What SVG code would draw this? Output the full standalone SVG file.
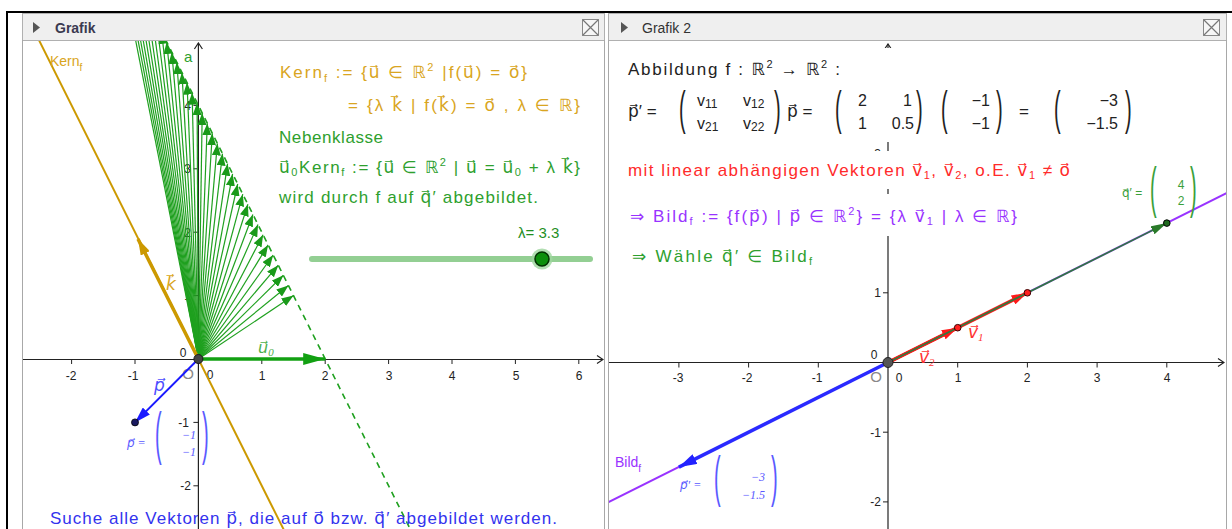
<svg xmlns="http://www.w3.org/2000/svg" width="1232" height="529" viewBox="0 0 1232 529">
<style>
text{font-family:"Liberation Sans","DejaVu Sans",sans-serif}
.ax{stroke:#222;stroke-width:1.2;fill:none}
.tk{stroke:#222;stroke-width:1}
.lbm{font-size:12px;fill:#222;text-anchor:middle}
.lbe{font-size:12px;fill:#222;text-anchor:end}
.sr{font-family:"Liberation Serif","DejaVu Sans",serif;font-style:italic}
.or{fill:#d9a521;font-size:17px}
.gr{fill:#2ea02e;font-size:17px}
.fan line{stroke:#1fa01f;stroke-width:1.2}
.par{font-size:20px}
</style>
<defs>
<marker id="mFan" markerUnits="userSpaceOnUse" markerWidth="12" markerHeight="9" refX="12" refY="4.5" orient="auto"><path d="M0,0L12,4.5L0,9z" fill="#1a9a1a"/></marker>
<marker id="mU0" markerUnits="userSpaceOnUse" markerWidth="22" markerHeight="12" refX="22" refY="6" orient="auto"><path d="M0,0L22,6L0,12z" fill="#12a012"/></marker>
<marker id="mK" markerUnits="userSpaceOnUse" markerWidth="16" markerHeight="10" refX="16" refY="5" orient="auto"><path d="M0,0L16,5L0,10z" fill="#cc9900"/></marker>
<marker id="mP" markerUnits="userSpaceOnUse" markerWidth="16" markerHeight="10" refX="16" refY="5" orient="auto"><path d="M0,0L16,5L0,10z" fill="#1a1aff"/></marker>
<marker id="mPP" markerUnits="userSpaceOnUse" markerWidth="18" markerHeight="11" refX="18" refY="5.5" orient="auto"><path d="M0,0L18,5.5L0,11z" fill="#2222ff"/></marker>
<marker id="mR" markerUnits="userSpaceOnUse" markerWidth="16" markerHeight="10" refX="16" refY="5" orient="auto"><path d="M0,0L16,5L0,10z" fill="#ff1a1a"/></marker>
<marker id="mQ" markerUnits="userSpaceOnUse" markerWidth="16" markerHeight="9" refX="16" refY="4.5" orient="auto"><path d="M0,0L16,4.5L0,9z" fill="#2a7a2a"/></marker>
<marker id="mAx" markerUnits="userSpaceOnUse" markerWidth="8" markerHeight="10" refX="7" refY="5" orient="auto"><path d="M1,1L7,5L1,9" fill="none" stroke="#222" stroke-width="1.2"/></marker>
<clipPath id="cL"><rect x="23" y="41" width="581" height="488"/></clipPath>
<clipPath id="cR"><rect x="609" y="41" width="617" height="488"/></clipPath>
</defs>
<rect width="1232" height="529" fill="#fff"/>

<!-- left panel plot -->
<g id="left-plot" clip-path="url(#cL)">
  <g id="left-axes">
    <line class="ax" x1="23" y1="359.5" x2="603" y2="359.5" marker-end="url(#mAx)"/>
    <line class="ax" x1="198.4" y1="529" x2="198.4" y2="43" marker-end="url(#mAx)"/>
    <path class="tk" d="M71.6,359v5M135,359v5M261.8,359v5M325.2,359v5M388.6,359v5M452,359v5M515.4,359v5M578.8,359v5M193.4,105.4h5M193.4,168.8h5M193.4,232.2h5M193.4,295.6h5M193.4,422.4h5M193.4,485.8h5"/>
    <text class="lbm" x="71" y="380">-2</text><text class="lbm" x="133" y="380">-1</text>
    <text class="lbm" x="262" y="380">1</text><text class="lbm" x="325" y="380">2</text>
    <text class="lbm" x="389" y="380">3</text><text class="lbm" x="452" y="380">4</text>
    <text class="lbm" x="516" y="380">5</text><text class="lbm" x="579" y="380">6</text>
    <text class="lbe" x="191" y="110">4</text><text class="lbe" x="191" y="173">3</text>
    <text class="lbe" x="191" y="237">2</text><text class="lbe" x="191" y="300">1</text>
    <text class="lbe" x="189" y="427">-1</text><text class="lbe" x="191" y="490">-2</text>
    <text class="lbm" x="183" y="357">0</text>
    <text class="lbm" x="210" y="379">0</text>
    <text x="188" y="379" font-size="15" fill="#888" text-anchor="middle">O</text>
    <text x="184" y="62" font-size="15" fill="#2ea02e">a</text>
  </g>
  <g id="kern-line">
    <line x1="18.9" y1="0" x2="288.9" y2="540" stroke="#cc9900" stroke-width="2"/>
    <text x="50" y="66" font-size="14" fill="#d9a521">Kern<tspan font-size="10" dy="5">f</tspan></text>
  </g>
  <line id="coset-line" x1="145.7" y1="0" x2="415.7" y2="540" stroke="#1fa01f" stroke-width="1.6" stroke-dasharray="6,5"/>
  <g id="fan" class="fan">
    <line x1="198.4" y1="359" x2="293.5" y2="295.6" marker-end="url(#mFan)"/>
    <line x1="198.4" y1="359" x2="288.4" y2="285.5" marker-end="url(#mFan)"/>
    <line x1="198.4" y1="359" x2="283.4" y2="275.3" marker-end="url(#mFan)"/>
    <line x1="198.4" y1="359" x2="278.3" y2="265.2" marker-end="url(#mFan)"/>
    <line x1="198.4" y1="359" x2="273.2" y2="255.0" marker-end="url(#mFan)"/>
    <line x1="198.4" y1="359" x2="268.1" y2="244.9" marker-end="url(#mFan)"/>
    <line x1="198.4" y1="359" x2="263.1" y2="234.7" marker-end="url(#mFan)"/>
    <line x1="198.4" y1="359" x2="258.0" y2="224.6" marker-end="url(#mFan)"/>
    <line x1="198.4" y1="359" x2="252.9" y2="214.5" marker-end="url(#mFan)"/>
    <line x1="198.4" y1="359" x2="247.9" y2="204.3" marker-end="url(#mFan)"/>
    <line x1="198.4" y1="359" x2="242.8" y2="194.2" marker-end="url(#mFan)"/>
    <line x1="198.4" y1="359" x2="237.7" y2="184.0" marker-end="url(#mFan)"/>
    <line x1="198.4" y1="359" x2="232.6" y2="173.9" marker-end="url(#mFan)"/>
    <line x1="198.4" y1="359" x2="227.6" y2="163.7" marker-end="url(#mFan)"/>
    <line x1="198.4" y1="359" x2="222.5" y2="153.6" marker-end="url(#mFan)"/>
    <line x1="198.4" y1="359" x2="217.4" y2="143.4" marker-end="url(#mFan)"/>
    <line x1="198.4" y1="359" x2="212.3" y2="133.3" marker-end="url(#mFan)"/>
    <line x1="198.4" y1="359" x2="207.3" y2="123.2" marker-end="url(#mFan)"/>
    <line x1="198.4" y1="359" x2="202.2" y2="113.0" marker-end="url(#mFan)"/>
    <line x1="198.4" y1="359" x2="197.1" y2="102.9" marker-end="url(#mFan)"/>
    <line x1="198.4" y1="359" x2="192.1" y2="92.7" marker-end="url(#mFan)"/>
    <line x1="198.4" y1="359" x2="187.0" y2="82.6" marker-end="url(#mFan)"/>
    <line x1="198.4" y1="359" x2="181.9" y2="72.4" marker-end="url(#mFan)"/>
    <line x1="198.4" y1="359" x2="176.8" y2="62.3" marker-end="url(#mFan)"/>
    <line x1="198.4" y1="359" x2="171.8" y2="52.1" marker-end="url(#mFan)"/>
    <line x1="198.4" y1="359" x2="166.7" y2="42.0" marker-end="url(#mFan)"/>
    <line x1="198.4" y1="359" x2="161.6" y2="31.9" marker-end="url(#mFan)"/>
    <line x1="198.4" y1="359" x2="156.6" y2="21.7" marker-end="url(#mFan)"/>
    <line x1="198.4" y1="359" x2="151.5" y2="11.6" marker-end="url(#mFan)"/>
    <line x1="198.4" y1="359" x2="146.4" y2="1.4" marker-end="url(#mFan)"/>
    <line x1="198.4" y1="359" x2="141.3" y2="-8.7" marker-end="url(#mFan)"/>
    <line x1="198.4" y1="359" x2="136.3" y2="-18.9" marker-end="url(#mFan)"/>
    <line x1="198.4" y1="359" x2="131.2" y2="-29.0" marker-end="url(#mFan)"/>
    <line x1="198.4" y1="359" x2="126.1" y2="-39.2" marker-end="url(#mFan)"/>
    <line x1="198.4" y1="359" x2="121.1" y2="-49.3" marker-end="url(#mFan)"/>
    <line x1="198.4" y1="359" x2="116.0" y2="-59.4" marker-end="url(#mFan)"/>
  </g>
  <g id="vec-k">
    <line x1="198.4" y1="359" x2="138" y2="239" stroke="#cc9900" stroke-width="3.5" marker-end="url(#mK)"/>
    <text class="sr" x="166" y="290" font-size="17" fill="#d9a521">k&#x20D7;</text>
  </g>
  <g id="vec-u0">
    <line x1="198.4" y1="359" x2="325.2" y2="359" stroke="#12a012" stroke-width="3.5" marker-end="url(#mU0)"/>
    <text class="sr" x="258" y="353" font-size="16" fill="#4db04d">u&#x20D7;<tspan font-size="11" dy="3">0</tspan></text>
  </g>
  <g id="vec-p">
    <line x1="198.4" y1="359" x2="135" y2="422.4" stroke="#1a1aff" stroke-width="2" marker-end="url(#mP)"/>
    <circle cx="135" cy="422.4" r="3.5" fill="#1a1a60" stroke="#000" stroke-width="0.8"/>
    <text class="sr" x="154" y="391" font-size="17" fill="#4d4dff">p&#x20D7;</text>
    <g id="p-label" fill="#5a5aff">
      <text class="sr" x="127" y="447" font-size="12">p&#x20D7; =</text>
      <text class="par" font-size="14" transform="translate(155,452.6) scale(1,2.9)">(</text>
      <text class="sr" x="196" y="439" font-size="12" text-anchor="end">−1</text>
      <text class="sr" x="196" y="456" font-size="12" text-anchor="end">−1</text>
      <text class="par" font-size="14" transform="translate(202,452.6) scale(1,2.9)">)</text>
    </g>
  </g>
  <circle id="origin-left" cx="198.4" cy="359" r="4.5" fill="#444" stroke="#1a1a1a" stroke-width="1"/>
</g>

<!-- left panel texts -->
<g id="kern-def">
  <text class="or" x="280" y="78" textLength="247">Kern<tspan font-size="11" dy="4">f</tspan><tspan dy="-4"> := {u&#x20D7; ∈ ℝ</tspan><tspan font-size="11" dy="-7">2</tspan><tspan dy="7"> |f(u&#x20D7;) = o&#x20D7;}</tspan></text>
  <text class="or" x="348" y="111" textLength="232">= {λ k&#x20D7; | f(k&#x20D7;) = o&#x20D7; ,  λ ∈ ℝ}</text>
</g>
<g id="coset-def">
  <text class="gr" x="279" y="143" textLength="104">Nebenklasse</text>
  <text class="gr" x="279" y="173" textLength="301">u&#x20D7;<tspan font-size="11" dy="3">0</tspan><tspan dy="-3">Kern</tspan><tspan font-size="11" dy="3">f</tspan><tspan dy="-3"> := {u&#x20D7; ∈ ℝ</tspan><tspan font-size="11" dy="-7">2</tspan><tspan dy="7"> | u&#x20D7; = u&#x20D7;</tspan><tspan font-size="11" dy="3">0</tspan><tspan dy="-3"> + λ k&#x20D7;}</tspan></text>
  <text class="gr" x="279" y="203" textLength="259">wird durch f auf q&#x20D7;′ abgebildet.</text>
</g>
<g id="slider">
  <text x="518" y="238" font-size="15" fill="#1f8f1f">λ= 3.3</text>
  <line x1="312" y1="259" x2="590" y2="259" stroke="#93cf93" stroke-width="6" stroke-linecap="round"/>
  <circle cx="542" cy="259" r="10.5" fill="#9fd69f" opacity="0.8"/>
  <circle cx="542" cy="259" r="7" fill="#0c8f0c" stroke="#003300" stroke-width="1.5"/>
</g>
<text id="search-text" x="50" y="524" font-size="17" fill="#3333ee" textLength="507">Suche alle Vektoren p&#x20D7;,  die auf o&#x20D7; bzw. q&#x20D7;′ abgebildet werden.</text>

<!-- right panel plot -->
<g id="right-plot" clip-path="url(#cR)">
  <g id="right-axes">
    <line class="ax" x1="609" y1="362.5" x2="1224" y2="362.5" marker-end="url(#mAx)"/>
    <line class="ax" x1="888" y1="529" x2="888" y2="44" marker-end="url(#mAx)"/>
    <path class="tk" d="M678.9,362.5v5M748.6,362.5v5M818.3,362.5v5M957.7,362.5v5M1027.4,362.5v5M1097.1,362.5v5M1166.8,362.5v5M883,153.4h5M883,223.1h5M883,292.8h5M883,432.2h5M883,501.9h5"/>
    <text class="lbm" x="678" y="382">-3</text><text class="lbm" x="747" y="382">-2</text>
    <text class="lbm" x="817" y="382">-1</text><text class="lbm" x="958" y="382">1</text>
    <text class="lbm" x="1027" y="382">2</text><text class="lbm" x="1097" y="382">3</text>
    <text class="lbm" x="1167" y="382">4</text>
    <text class="lbe" x="881" y="158">3</text>
    <text class="lbe" x="881" y="297">1</text>
    <text class="lbe" x="881" y="437">-1</text>
    <text class="lbe" x="881" y="506">-2</text>
    <text class="lbm" x="874" y="359">0</text>
    <text class="lbm" x="899" y="382">0</text>
    <text x="876" y="382" font-size="15" fill="#888" text-anchor="middle">O</text>
  </g>
  <g id="bild-line">
    <line x1="608.5" y1="502.2" x2="1226.5" y2="193.2" stroke="#9933ff" stroke-width="2"/>
    <text x="615" y="467" font-size="14" fill="#9933ff">Bild<tspan font-size="10" dy="5">f</tspan></text>
  </g>
  <g id="vec-pp">
    <line x1="888" y1="362.5" x2="678.9" y2="467.1" stroke="#2a2aff" stroke-width="3.5" marker-end="url(#mPP)"/>
    <g id="pp-label" fill="#5a5aff">
      <text class="sr" x="680" y="489" font-size="12">p&#x20D7;′ =</text>
      <text class="par" font-size="14" transform="translate(714,495) scale(1,2.75)">(</text>
      <text class="sr" x="765" y="481" font-size="12" text-anchor="end">−3</text>
      <text class="sr" x="765" y="499" font-size="12" text-anchor="end">−1.5</text>
      <text class="par" font-size="14" transform="translate(771,495) scale(1,2.75)">)</text>
    </g>
  </g>
  <g id="vec-v">
    <line x1="888" y1="362.5" x2="1027.4" y2="292.8" stroke="#ff1a1a" stroke-width="3.5" marker-end="url(#mR)"/>
    <line x1="888" y1="362.5" x2="957.7" y2="327.7" stroke="#ff1a1a" stroke-width="3.5" marker-end="url(#mR)"/>
    <text class="sr" x="968" y="338" font-size="17" fill="#ff3333">v&#x20D7;<tspan font-size="11" dy="3">1</tspan></text>
    <text class="sr" x="919" y="363" font-size="17" fill="#ff3333">v&#x20D7;<tspan font-size="11" dy="3">2</tspan></text>
  </g>
  <g id="vec-q">
    <line x1="888" y1="362.5" x2="1166.8" y2="223.1" stroke="#2f7a3f" stroke-width="1.6" marker-end="url(#mQ)"/>
    <circle cx="957.7" cy="327.7" r="3.3" fill="#ff2020" stroke="#3a0000" stroke-width="1"/>
    <circle cx="1027.4" cy="292.8" r="3.3" fill="#ff2020" stroke="#3a0000" stroke-width="1"/>
    <circle cx="1166.8" cy="223.1" r="3.3" fill="#1f6a1f" stroke="#000" stroke-width="1"/>
    <g id="q-label" fill="#3aa03a">
      <text x="1122" y="197" font-size="12">q&#x20D7;′ =</text>
      <text class="par" font-size="14" transform="translate(1150,206) scale(1,2.75)">(</text>
      <text x="1181" y="189" font-size="12" text-anchor="middle">4</text>
      <text x="1181" y="205" font-size="12" text-anchor="middle">2</text>
      <text class="par" font-size="14" transform="translate(1190,206) scale(1,2.75)">)</text>
    </g>
  </g>
  <circle id="origin-right" cx="888" cy="362.5" r="5" fill="#555" stroke="#222" stroke-width="1"/>
  <rect x="620" y="48" width="540" height="94" fill="#fff"/>
  <rect x="620" y="151" width="455" height="38" fill="#fff"/>
  <rect x="620" y="194" width="402" height="42" fill="#fff"/>
</g>

<!-- right panel texts -->
<g id="map-def" fill="#222">
  <text x="628" y="75" font-size="17" textLength="212">Abbildung f :  ℝ<tspan font-size="11" dy="-7">2</tspan><tspan dy="7"> → ℝ</tspan><tspan font-size="11" dy="-7">2</tspan><tspan dy="7"> :</tspan></text>
  <text x="628" y="117" font-size="17">p&#x20D7;′ =</text>
  <text class="par" transform="translate(679,124.1) scale(1,2.34)">(</text>
  <text x="697" y="106" font-size="16">v<tspan font-size="12" dy="2">11</tspan></text>
  <text x="743" y="106" font-size="16">v<tspan font-size="12" dy="2">12</tspan></text>
  <text x="697" y="129" font-size="16">v<tspan font-size="12" dy="2">21</tspan></text>
  <text x="743" y="129" font-size="16">v<tspan font-size="12" dy="2">22</tspan></text>
  <text class="par" transform="translate(774,124.1) scale(1,2.34)">)</text>
  <text x="787" y="117" font-size="17">p&#x20D7; =</text>
  <text class="par" transform="translate(835,124.1) scale(1,2.34)">(</text>
  <text x="858" y="106" font-size="16">2</text>
  <text x="912" y="106" font-size="16" text-anchor="end">1</text>
  <text x="858" y="129" font-size="16">1</text>
  <text x="914" y="129" font-size="16" text-anchor="end">0.5</text>
  <text class="par" transform="translate(916,124.1) scale(1,2.34)">)</text>
  <text class="par" transform="translate(941,124.1) scale(1,2.34)">(</text>
  <text x="990" y="106" font-size="16" text-anchor="end">−1</text>
  <text x="990" y="129" font-size="16" text-anchor="end">−1</text>
  <text class="par" transform="translate(996,124.1) scale(1,2.34)">)</text>
  <text x="1019" y="117" font-size="17">=</text>
  <text class="par" transform="translate(1054,124.1) scale(1,2.34)">(</text>
  <text x="1118" y="106" font-size="16" text-anchor="end">−3</text>
  <text x="1118" y="129" font-size="16" text-anchor="end">−1.5</text>
  <text class="par" transform="translate(1125,124.1) scale(1,2.34)">)</text>
</g>
<text id="dep-text" x="628" y="176" font-size="17" fill="#ff2a2a" textLength="442">mit linear abhängigen Vektoren v&#x20D7;<tspan font-size="11" dy="3">1</tspan><tspan dy="-3">, v&#x20D7;</tspan><tspan font-size="11" dy="3">2</tspan><tspan dy="-3">,  o.E. v&#x20D7;</tspan><tspan font-size="11" dy="3">1</tspan><tspan dy="-3"> ≠ o&#x20D7;</tspan></text>
<text id="bild-text" x="630" y="222" font-size="17" fill="#9933ff" textLength="387">⇒  Bild<tspan font-size="11" dy="3">f</tspan><tspan dy="-3"> := {f(p&#x20D7;) | p&#x20D7; ∈ ℝ</tspan><tspan font-size="11" dy="-7">2</tspan><tspan dy="7">} = {λ v&#x20D7;</tspan><tspan font-size="11" dy="3">1</tspan><tspan dy="-3"> | λ ∈ ℝ}</tspan></text>
<text id="choose-text" x="632" y="262" font-size="17" fill="#2ea02e" textLength="180">⇒  Wähle q&#x20D7;′ ∈ Bild<tspan font-size="11" dy="3">f</tspan></text>

<!-- window chrome -->
<g id="left-titlebar">
  <rect x="22.5" y="13.5" width="582" height="27" fill="#efefef" stroke="#b0b0b0"/>
  <polygon points="33,22 40,27.5 33,33" fill="#555"/>
  <text x="55" y="33" font-size="14" font-weight="bold" fill="#3a3a50">Grafik</text>
  <rect x="582.5" y="19.5" width="16" height="16" fill="#f6f6f6" stroke="#888"/>
  <path d="M583,20L598,35M598,20L583,35" stroke="#777" stroke-width="1.2"/>
</g>
<g id="right-titlebar">
  <rect x="608.5" y="13.5" width="618" height="27" fill="#efefef" stroke="#b0b0b0"/>
  <polygon points="621,22 628,27.5 621,33" fill="#555"/>
  <text x="642" y="33" font-size="14" fill="#333">Grafik 2</text>
  <rect x="1203.5" y="19.5" width="16" height="16" fill="#f6f6f6" stroke="#888"/>
  <path d="M1204,20L1219,35M1219,20L1204,35" stroke="#777" stroke-width="1.2"/>
</g>
<g id="frame">
  <line x1="22.5" y1="40" x2="22.5" y2="529" stroke="#a8a8a8"/>
  <line x1="604.5" y1="40" x2="604.5" y2="529" stroke="#a8a8a8"/>
  <line x1="608.5" y1="40" x2="608.5" y2="529" stroke="#a8a8a8"/>
  <line x1="1226.5" y1="40" x2="1226.5" y2="529" stroke="#a8a8a8"/>
  <line x1="6" y1="12" x2="1232" y2="12" stroke="#000" stroke-width="2"/>
  <line x1="7" y1="12" x2="7" y2="529" stroke="#000" stroke-width="2"/>
</g>
</svg>
